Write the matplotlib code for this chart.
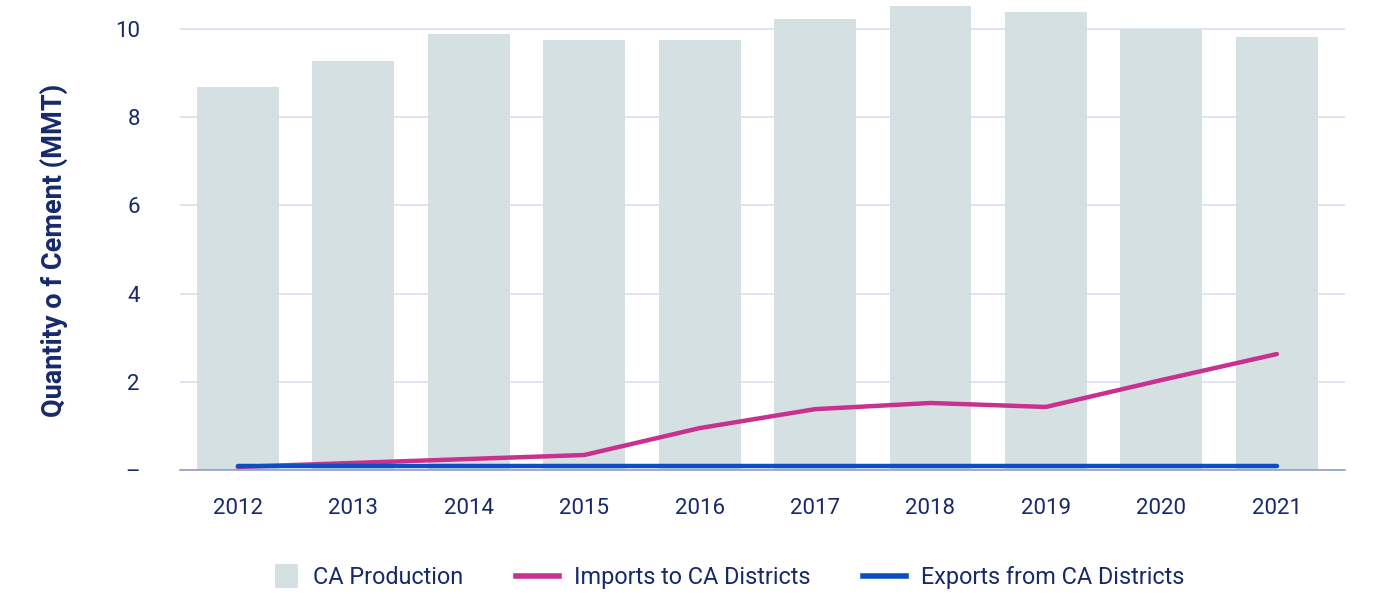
import matplotlib.pyplot as plt
import matplotlib.ticker as mticker
from matplotlib.patches import Patch, Rectangle
from matplotlib.lines import Line2D
from matplotlib.legend_handler import HandlerPatch
import numpy as np

years = ["2012", "2013", "2014", "2015", "2016", "2017", "2018", "2019", "2020", "2021"]
production = [8.68, 9.27, 9.88, 9.75, 9.75, 10.23, 10.52, 10.39, 10.01, 9.82]
imports = [0.07, 0.16, 0.25, 0.34, 0.95, 1.38, 1.52, 1.43, 2.04, 2.63]
exports = [0.08, 0.08, 0.08, 0.08, 0.08, 0.08, 0.08, 0.08, 0.08, 0.08]

NAVY = "#16296b"
BAR = "#d5e0e3"
PINK = "#c8318f"
BLUE = "#0b4fc2"

plt.rcParams['font.family'] = ['Roboto', 'DejaVu Sans']


def square_patch(legend, orig_handle, xdescent, ydescent, width, height, fontsize):
    # square swatch, right-aligned in the handle box
    side = 1.45 * height
    return Rectangle((width - side - xdescent, -ydescent + (height - side) / 2), side, side)


fig = plt.figure(figsize=(14, 5.97), dpi=100)
ax = fig.add_axes([0.1286, 0.2127, 0.8321, 0.783])

x = np.arange(len(years))
ax.bar(x, production, width=0.71, color=BAR, zorder=2)
ax.plot(x, imports, color=PINK, lw=3.2, zorder=3, solid_capstyle='round')
ax.plot(x, exports, color=BLUE, lw=3.2, zorder=4, solid_capstyle='round')

ax.set_xlim(-0.5, 9.59)
ax.set_ylim(0, 10.6)
ax.set_yticks([0, 2, 4, 6, 8, 10])
ax.yaxis.set_major_formatter(mticker.FuncFormatter(lambda v, p: "\u2013" if v == 0 else f"{v:g}"))
ax.set_xticks(x)
ax.set_xticklabels(years)

ax.grid(axis='y', color="#d9dcec", lw=1.1, zorder=0)
ax.set_axisbelow(True)
for side in ['top', 'right', 'left']:
    ax.spines[side].set_visible(False)
ax.spines['bottom'].set_color("#8c94c8")
ax.spines['bottom'].set_linewidth(1.1)

ax.tick_params(axis='both', length=0, labelsize=16, labelcolor=NAVY)
ax.tick_params(axis='y', pad=29)
ax.tick_params(axis='x', pad=20)

ax.set_ylabel("Quantity o f Cement (MMT)", fontsize=19.5, fontweight='bold', color=NAVY)
ax.yaxis.set_label_coords(-0.0966, 0.47)

handles = [
    Patch(facecolor=BAR, edgecolor='none'),
    Line2D([], [], color=PINK, lw=4),
    Line2D([], [], color=BLUE, lw=4),
]
labels = ["CA Production", "Imports to CA Districts", "Exports from CA Districts"]
leg = fig.legend(handles, labels, loc='center', bbox_to_anchor=(0.514, 0.032), ncol=3,
                 frameon=False, fontsize=16.8, handlelength=1.85, handleheight=0.7,
                 columnspacing=2.27, handletextpad=0.62,
                 handler_map={Patch: HandlerPatch(patch_func=square_patch)})
for t in leg.get_texts():
    t.set_color(NAVY)

fig.savefig("out.png", dpi=100)
